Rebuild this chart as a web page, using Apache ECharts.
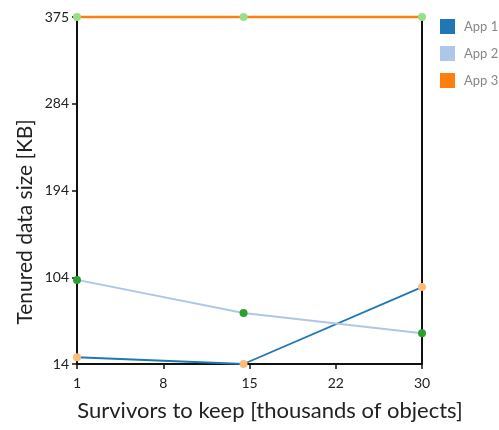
<!DOCTYPE html>
<html>
<head>
<meta charset="utf-8">
<script src="https://cdn.jsdelivr.net/npm/echarts@6/dist/echarts.min.js"></script>
<style>
html,body{margin:0;padding:0;background:#fff;}
#chart{width:499px;height:430px;}
</style>
</head>
<body>
<div id="chart"></div>
<script>
// ---- data ----
const xValues = [1, 15, 30];
const app1 = [21, 14, 94];
const app2 = [101.5, 67, 46];
const app3 = [375, 375, 375];
const seriesNames = ['App 1', 'App 2', 'App 3'];
const xTickLabels = [1, 8, 15, 22, 30];
const yTickLabels = [14, 104, 194, 284, 375];
const xTitle = 'Survivors to keep [thousands of objects]';
const yTitle = 'Tenured data size [KB]';

const lineColors = ['#1f77b4', '#aec7e8', '#ff7f0e'];
const markerColors = ['#ffbb78', '#2ca02c', '#98df8a'];
const lineWidths = [1.8, 2, 2.5];

const xMin = xTickLabels[0], xMax = xTickLabels[xTickLabels.length - 1];
const yMin = yTickLabels[0], yMax = yTickLabels[yTickLabels.length - 1];
const xTickPos = xTickLabels.map((_, i) => xMin + i * (xMax - xMin) / (xTickLabels.length - 1));
const yTickPos = yTickLabels.map((_, i) => yMin + i * (yMax - yMin) / (yTickLabels.length - 1));

const font = '"Source Sans Pro", Lato, "Noto Sans", sans-serif';
const allData = [app1, app2, app3];

const chart = echarts.init(document.getElementById('chart'), null, {renderer: 'canvas'});
chart.setOption({
  animation: false,
  backgroundColor: '#fff',
  textStyle: {fontFamily: font},
  grid: {left: 77, right: 77, top: 17, bottom: 66, outerBoundsMode: 'none', containLabel: false,
    show: true, borderColor: '#111', borderWidth: 2, backgroundColor: 'transparent'},
  legend: {
    orient: 'vertical', left: 440, top: 19, padding: 0,
    itemWidth: 15, itemHeight: 15, itemGap: 12,
    icon: 'rect',
    textStyle: {color: '#888', fontSize: 13, fontFamily: font, overflow: 'none', width: 60, padding: [0, 0, 0, 4]},
    data: seriesNames.map((n, i) => ({name: n, itemStyle: {color: lineColors[i]}}))
  },
  graphic: [
    {type: 'text', x: 270, y: 411, style: {text: xTitle, font: '22px ' + font, fill: '#222', align: 'center', verticalAlign: 'middle'}},
    {type: 'text', x: 25, y: 222, rotation: Math.PI / 2, style: {text: yTitle, font: '21px ' + font, fill: '#222', align: 'center', verticalAlign: 'middle'}}
  ],
  xAxis: {
    type: 'value', min: xMin, max: xMax,
    axisLine: {show: true, lineStyle: {color: '#111', width: 2}},
    axisTick: {show: true, length: 5, customValues: xTickPos, lineStyle: {color: '#111', width: 1.5}},
    axisLabel: {customValues: xTickPos, fontSize: 14, color: '#222', margin: 12, fontFamily: font,
      formatter: v => String(Math.floor(v + 1e-9))},
    splitLine: {show: false}
  },
  yAxis: {
    type: 'value', min: yMin, max: yMax,
    axisLine: {show: true, lineStyle: {color: '#111', width: 2}},
    axisTick: {show: true, length: 5, customValues: yTickPos, lineStyle: {color: '#111', width: 1.5}},
    axisLabel: {customValues: yTickPos, fontSize: 14, color: '#222', margin: 8, fontFamily: font,
      formatter: v => String(Math.floor(v + 1e-9))},
    splitLine: {show: false}
  },
  series: seriesNames.map((n, i) => ({
    name: n, type: 'line',
    data: xValues.map((x, j) => [x, allData[i][j]]),
    symbol: 'circle', symbolSize: 8, showSymbol: true,
    lineStyle: {color: lineColors[i], width: lineWidths[i]},
    itemStyle: {color: markerColors[i], borderWidth: 0},
    clip: false,
    z: 3 + i
  }))
});
</script>
</body>
</html>
